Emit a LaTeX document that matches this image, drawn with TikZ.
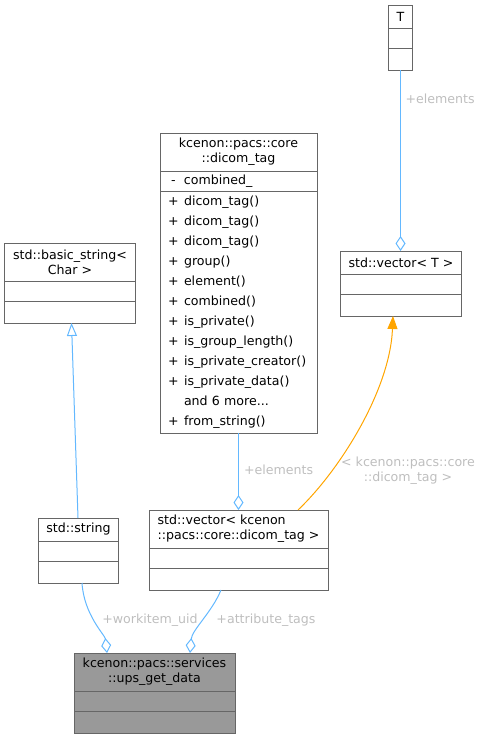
\documentclass[tikz,border=0pt]{standalone}
\usepackage{fontspec}
\setmainfont{DejaVu Sans}
\usetikzlibrary{positioning,arrows.meta}
\definecolor{edgeblue}{HTML}{63B8FF}
\definecolor{edgeorange}{HTML}{FFA500}
\definecolor{boxline}{HTML}{666666}
\definecolor{boxgray}{HTML}{999999}
\definecolor{lblgray}{HTML}{BEBEBE}
\newcommand{\umlvis}[1]{\makebox[16pt][l]{\makebox[10.6pt]{#1}}}
\begin{document}
\begin{tikzpicture}[x=1pt,y=-1pt]
	\tikzstyle{every node}+=[font=\fontsize{12.6}{15}\selectfont]
	\tikzstyle{cls}=[draw=boxline, line width=1pt, fill=white, inner sep=0pt, outer sep=0pt, align=center]
	\tikzstyle{hdrone}=[cls, minimum height=23pt]
	\tikzstyle{hdrtwo}=[cls, minimum height=38pt]
	\tikzstyle{attr}=[cls, minimum height=20pt]
	\tikzstyle{meth}=[cls, minimum height=22pt]
	\tikzstyle{lbl}=[text=lblgray, inner sep=0pt]
	\tikzstyle{aggr}=[draw=edgeblue, line width=1pt, -{Diamond[open, length=15pt, width=10pt]}]
	\tikzstyle{inher}=[draw=edgeblue, line width=1pt, -{Triangle[open, length=13pt, width=10pt]}]
	\tikzstyle{tmpl}=[draw=edgeorange, line width=1pt, -{Triangle[length=13pt, width=10pt]}]
	\useasboundingbox (0,0) rectangle (484,739);
	% T
	\node [hdrone, minimum width=24pt] (T) at (400.5,16.5) {T};
	\node [attr, minimum width=24pt, below=0pt of T] (T-a) {};
	\node [meth, minimum width=24pt, below=0pt of T-a] (T-m) {};
	% std::vector< T >
	\node [hdrone, minimum width=121pt] (vecT) at (401,262.5) {std::vector< T >};
	\node [attr, minimum width=121pt, below=0pt of vecT] (vecT-a) {};
	\node [meth, minimum width=121pt, below=0pt of vecT-a] (vecT-m) {};
	% std::basic_string< Char >
	\node [hdrtwo, minimum width=131pt] (bas) at (70,262) {std::basic\_string<\\Char >};
	\node [attr, minimum width=131pt, below=0pt of bas] (bas-a) {};
	\node [meth, minimum width=131pt, below=0pt of bas-a] (bas-m) {};
	% dicom_tag
	\node [hdrtwo, minimum width=157pt] (dt) at (238.5,152) {kcenon::pacs::core\\::dicom\_tag};
	\node [attr, text width=141pt, inner xsep=8pt, align=left, below=0pt of dt] (dt-a) {\umlvis{-}combined\_};
	\node [cls, text width=141pt, inner xsep=8pt, minimum height=242pt, align=left,
		font=\fontsize{12.6}{20}\selectfont, below=0pt of dt-a] (dt-m) {%
		\umlvis{+}dicom\_tag()\\
		\umlvis{+}dicom\_tag()\\
		\umlvis{+}dicom\_tag()\\
		\umlvis{+}group()\\
		\umlvis{+}element()\\
		\umlvis{+}combined()\\
		\umlvis{+}is\_private()\\
		\umlvis{+}is\_group\_length()\\
		\umlvis{+}is\_private\_creator()\\
		\umlvis{+}is\_private\_data()\\
		\umlvis{}and 6 more...\\
		\umlvis{+}from\_string()};
	% std::string
	\node [hdrone, minimum width=80pt] (str) at (78.5,529.5) {std::string};
	\node [attr, minimum width=80pt, below=0pt of str] (str-a) {};
	\node [meth, minimum width=80pt, below=0pt of str-a] (str-m) {};
	% std::vector< dicom_tag >
	\node [hdrtwo, minimum width=179pt, align=left] (vecdt) at (238.5,529) {std::vector< kcenon\\::pacs::core::dicom\_tag >};
	\node [attr, minimum width=179pt, below=0pt of vecdt] (vecdt-a) {};
	\node [meth, minimum width=179pt, below=0pt of vecdt-a] (vecdt-m) {};
	% ups_get_data
	\node [hdrtwo, minimum width=161pt, fill=boxgray] (ups) at (154.5,672) {kcenon::pacs::services\\::ups\_get\_data};
	\node [attr, minimum width=161pt, fill=boxgray, below=0pt of ups] (ups-a) {};
	\node [meth, minimum width=161pt, fill=boxgray, below=0pt of ups-a] (ups-m) {};
	% connectors
	\draw [aggr] (T-m.south) -- ([xshift=-0.5pt]vecT.north)
		node [lbl, pos=0.16, anchor=west, xshift=4.5pt] (l-elemT) {+elements};
	\draw [aggr] (dt-m.south) -- (vecdt.north)
		node [lbl, pos=0.48, anchor=west, xshift=5pt] (l-elemdt) {+elements};
	\draw [tmpl] ([xshift=59.5pt]vecdt.north) .. controls (340,470) and (390,390) .. ([xshift=-8pt]vecT-m.south);
	\node [lbl, align=center] (l-tmpl) at (408,471) {< kcenon::pacs::core\\::dicom\_tag >};
	\draw [inher] ([xshift=-0.5pt]str.north) -- ([xshift=1.5pt]bas-m.south);
	\draw [aggr] ([xshift=3.5pt]str-m.south) .. controls (84,615) and (105,635) .. ([xshift=-47.5pt]ups.north);
	\node [lbl] (l-uid) at (150,620) {+workitem\_uid};
	\draw [aggr] ([xshift=-17.5pt]vecdt-m.south) .. controls (212,612) and (192,630) .. ([xshift=35.5pt]ups.north);
	\node [lbl] (l-att) at (266,620) {+attribute\_tags};
\end{tikzpicture}
\end{document}
